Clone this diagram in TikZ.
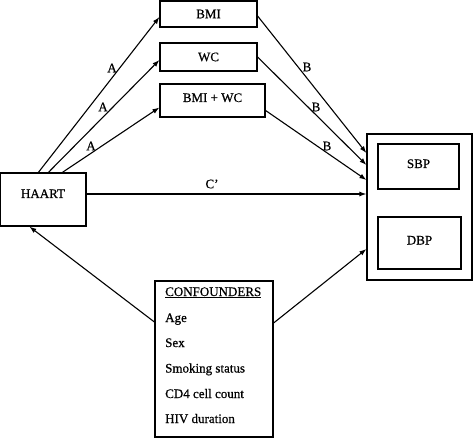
\documentclass[tikz,border=0pt]{standalone}
\usepackage{fontspec}
\setmainfont[FakeBold=0.6]{Liberation Serif}
\usetikzlibrary{arrows.meta}
\begin{document}
\begin{tikzpicture}[x=1pt,y=-1pt,
  font=\fontsize{13}{15}\selectfont,
  box/.style={draw,line width=1.2pt,inner sep=0pt,align=center},
  arr/.style={line width=1.1pt,-{Latex[length=7pt,width=5pt]}},
  lbl/.style={inner sep=0pt},
  item/.style={inner sep=0pt,anchor=base west}]
\useasboundingbox (0,0) rectangle (473,438);
% boxes
\node[box,minimum width=97pt,minimum height=26pt] (bmi) at (208.5,14) {BMI};
\node[box,minimum width=97pt,minimum height=28pt] (wc) at (208.5,57) {WC};
\node[box,minimum width=105pt,minimum height=33pt,text height=9pt,text depth=6pt] (bmiwc) at (212.5,100.5) {BMI + WC};
\node[box,minimum width=86pt,minimum height=53pt,text height=9pt,text depth=12pt] (haart) at (43,199.5) {HAART};
\node[box,minimum width=105pt,minimum height=146pt] (outer) at (419.5,207) {};
\node[box,minimum width=81pt,minimum height=45pt,text height=9pt,text depth=6pt] (sbp) at (418.5,166.5) {SBP};
\node[box,minimum width=83pt,minimum height=52pt,text height=9pt,text depth=6pt] (dbp) at (419.5,243) {DBP};
\node[box,minimum width=118pt,minimum height=156pt] (conf) at (214,359) {};
% confounder list
\node[item] (c0) at (165,296) {\underline{CONFOUNDERS}};
\node[item] (c1) at (165,322) {Age};
\node[item] (c2) at (165,347) {Sex};
\node[item] (c3) at (165,372.5) {Smoking status};
\node[item] (c4) at (165,398) {CD4 cell count};
\node[item] (c5) at (165,423) {HIV duration};
% arrows A
\draw[arr] ([xshift=39pt]haart.north west) -- ([yshift=-3pt]bmi.west);
\draw[arr] ([xshift=49pt]haart.north west) -- ([yshift=-3pt]wc.west);
\draw[arr] ([xshift=63pt]haart.north west) -- ([yshift=-7pt]bmiwc.west);
% arrows B
\draw[arr] ([yshift=-2pt]bmi.east) -- ([yshift=54pt]outer.west);
\draw[arr] (wc.east) -- ([yshift=42pt]outer.west);
\draw[arr] ([yshift=-10pt]bmiwc.east) -- ([yshift=27pt]outer.west);
% C'
\draw[arr] ([yshift=5.5pt]haart.east) -- ([yshift=13pt]outer.west);
% confounders
\draw[arr] ([yshift=37pt]conf.west) -- ([xshift=30pt]haart.south west);
\draw[arr] ([yshift=36pt]conf.east) -- ([yshift=-42pt]outer.west);
% labels
\node[lbl] (la1) at (112,68) {A};
\node[lbl] (la2) at (103,107) {A};
\node[lbl] (la3) at (91,146) {A};
\node[lbl] (lb1) at (307,67) {B};
\node[lbl] (lb2) at (316,107) {B};
\node[lbl] (lb3) at (327,146) {B};
\node[lbl] (lc) at (212,184) {C’};
\end{tikzpicture}
\end{document}
